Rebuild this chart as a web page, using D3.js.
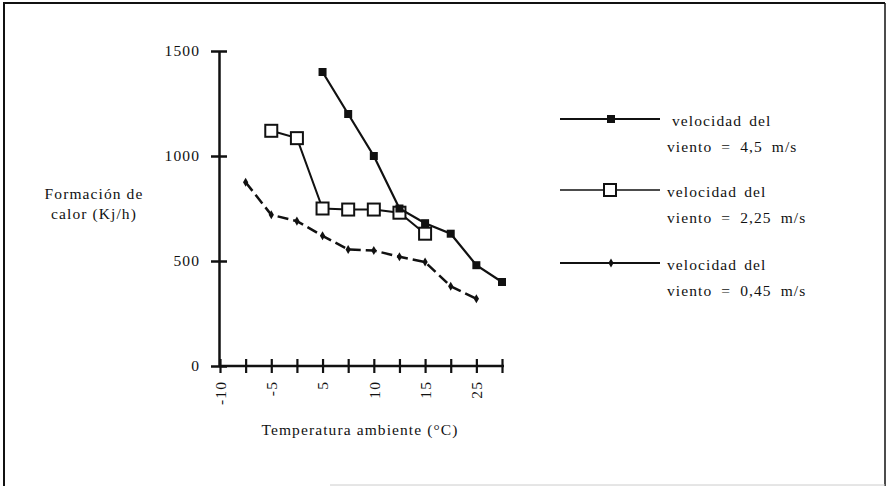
<!DOCTYPE html>
<html>
<head>
<meta charset="utf-8">
<script src="https://cdn.jsdelivr.net/npm/d3@7"></script>
<style>
  html, body { margin: 0; padding: 0; background: #fff; }
  svg { display: block; }
  text { font-family: "Liberation Serif", "Times New Roman", serif; fill: #111; }
</style>
</head>
<body>
<svg id="chart" width="888" height="486"></svg>
<script>
// ---- data ----
const categories = [0, 1, 2, 3, 4, 5, 6, 7, 8, 9, 10, 11];
const tickLabels = ["-10", "", "-5", "", "5", "", "10", "", "15", "", "25", ""];
const yTicks = [0, 500, 1000, 1500];
const wind45 = [null, null, null, null, 1400, 1200, 1000, 750, 680, 630, 480, 400];
const wind225 = [null, null, 1120, 1085, 750, 745, 745, 730, 630, null, null, null];
const wind045 = [null, 875, 720, 690, 620, 555, 550, 520, 495, 380, 320, null];
const legendLine1 = ["velocidad del", "velocidad del", "velocidad del"];
const legendLine2 = ["viento = 4,5 m/s", "viento = 2,25 m/s", "viento = 0,45 m/s"];
const yTitle = ["Formación de", "calor (Kj/h)"];
const xTitle = "Temperatura ambiente (°C)";

const FS = 15.5, LS = 1.1;
const svg = d3.select("#chart");

// frame
svg.append("line").attr("x1", 3).attr("y1", 3).attr("x2", 885).attr("y2", 3).attr("stroke", "#111").attr("stroke-width", 2);
svg.append("line").attr("x1", 4).attr("y1", 3).attr("x2", 4).attr("y2", 486).attr("stroke", "#111").attr("stroke-width", 2);
svg.append("line").attr("x1", 885).attr("y1", 3).attr("x2", 885).attr("y2", 486).attr("stroke", "#111").attr("stroke-width", 1.5);
svg.append("line").attr("x1", 330).attr("y1", 485).attr("x2", 885).attr("y2", 485).attr("stroke", "#ccc").attr("stroke-width", 1);

// scales
const x = d3.scalePoint().domain(categories).range([220, 502]);
const y = d3.scaleLinear().domain([0, 1500]).range([366, 51]);

// y axis
const yAxis = d3.axisLeft(y).tickValues(yTicks).tickSize(0).tickPadding(19).tickFormat(d3.format("d"));
const gy = svg.append("g").attr("transform", "translate(219,0)").call(yAxis);
gy.select(".domain").attr("stroke", "#111").attr("stroke-width", 2.5);
gy.selectAll(".tick").append("line").attr("x1", -8).attr("x2", 8).attr("stroke", "#111").attr("stroke-width", 2.5);
gy.selectAll(".tick text").attr("font-size", FS).attr("letter-spacing", LS)
  .attr("font-family", "Liberation Serif").attr("fill", "#111");

// x axis
const xAxis = d3.axisBottom(x).tickSize(0).tickPadding(0).tickFormat((d, i) => tickLabels[i]);
const gx = svg.append("g").attr("transform", "translate(0,366)").call(xAxis);
gx.select(".domain").attr("d", "M219,0H504").attr("stroke", "#111").attr("stroke-width", 2.5);
gx.selectAll(".tick").append("line").attr("y1", -7).attr("y2", 7).attr("stroke", "#111").attr("stroke-width", 2.2);
gx.selectAll(".tick text")
  .attr("font-size", FS).attr("letter-spacing", LS).attr("font-family", "Liberation Serif").attr("fill", "#111")
  .attr("transform", "rotate(-90)")
  .attr("text-anchor", "end")
  .attr("x", -15).attr("y", 0).attr("dy", "0.35em");

// axis titles
svg.append("text").attr("x", 360).attr("y", 435).attr("text-anchor", "middle")
  .attr("font-size", FS).attr("letter-spacing", LS).text(xTitle);
svg.append("g").selectAll("text").data(yTitle).join("text")
  .attr("x", 94).attr("y", (d, i) => 199 + i * 20).attr("text-anchor", "middle")
  .attr("font-size", FS).attr("letter-spacing", LS).text(d => d);

// series
const line = d3.line().defined(d => d != null).x((d, i) => x(categories[i])).y(d => y(d));
function pts(arr) { return arr.map((v, i) => ({ v, i })).filter(d => d.v != null); }

// 0.45 m/s dash line with small diamonds
svg.append("path").datum(wind045).attr("d", line).attr("fill", "none").attr("stroke", "#111")
  .attr("stroke-width", 2.5).attr("stroke-dasharray", "11,5");
svg.append("g").selectAll("path").data(pts(wind045)).join("path")
  .attr("d", d3.symbol(d3.symbolDiamond, 24))
  .attr("transform", d => `translate(${x(categories[d.i])},${y(d.v)})`)
  .attr("fill", "#111");

// 2.25 m/s open squares
svg.append("path").datum(wind225).attr("d", line).attr("fill", "none").attr("stroke", "#111").attr("stroke-width", 2);
svg.append("g").selectAll("rect").data(pts(wind225)).join("rect")
  .attr("x", d => x(categories[d.i]) - 6).attr("y", d => y(d.v) - 6)
  .attr("width", 12).attr("height", 12)
  .attr("fill", "#fff").attr("stroke", "#111").attr("stroke-width", 2);

// 4.5 m/s filled squares
svg.append("path").datum(wind45).attr("d", line).attr("fill", "none").attr("stroke", "#111").attr("stroke-width", 2.2);
svg.append("g").selectAll("rect").data(pts(wind45)).join("rect")
  .attr("x", d => x(categories[d.i]) - 4).attr("y", d => y(d.v) - 4)
  .attr("width", 8).attr("height", 8)
  .attr("fill", "#111");

// legend
const legendY = [119, 190, 263];
const lg = svg.append("g");
legendY.forEach((ly, k) => {
  lg.append("line").attr("x1", 560).attr("x2", 660).attr("y1", ly).attr("y2", ly)
    .attr("stroke", "#111").attr("stroke-width", k === 1 ? 1.6 : 2.2);
  if (k === 0) {
    lg.append("rect").attr("x", 607).attr("y", ly - 4).attr("width", 8).attr("height", 8).attr("fill", "#111");
  } else if (k === 1) {
    lg.append("rect").attr("x", 604).attr("y", ly - 6).attr("width", 12).attr("height", 12)
      .attr("fill", "#fff").attr("stroke", "#111").attr("stroke-width", 2);
  } else {
    lg.append("path").attr("d", d3.symbol(d3.symbolDiamond, 24)).attr("transform", `translate(611,${ly})`).attr("fill", "#111");
  }
  lg.append("text").attr("x", k === 0 ? 672 : 667).attr("y", ly + 7).attr("font-size", FS)
    .attr("letter-spacing", LS).attr("word-spacing", 2).text(legendLine1[k]);
  lg.append("text").attr("x", 667).attr("y", ly + 33).attr("font-size", FS)
    .attr("letter-spacing", LS).attr("word-spacing", 4).text(legendLine2[k]);
});
</script>
</body>
</html>
